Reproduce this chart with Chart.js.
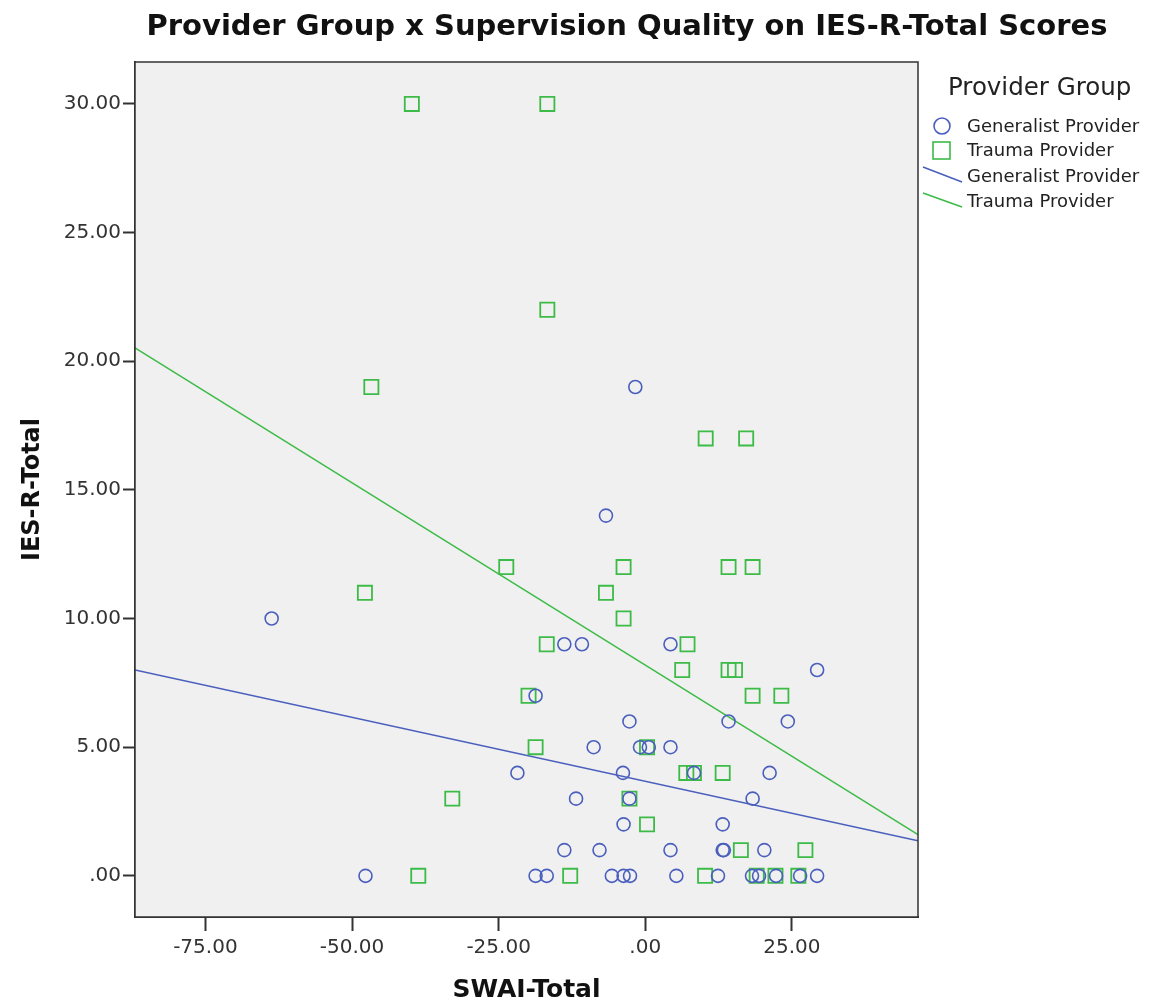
<!DOCTYPE html>
<html>
<head>
<meta charset="utf-8">
<title>Provider Group x Supervision Quality on IES-R-Total Scores</title>
<script src="https://cdn.jsdelivr.net/npm/chart.js@4.4.1/dist/chart.umd.min.js"></script>
<style>
  html, body { margin: 0; padding: 0; background: #fff; }
  #wrap { position: relative; width: 1171px; height: 1008px; }
</style>
</head>
<body>
<div id="wrap"><canvas id="myChart"></canvas></div>
<script>
// ---- data ----
const generalistX = [-63.7, -47.7, -1.7, -6.7, -13.8, -10.8, 4.3, -18.7, -2.7, 14.2,
  24.3, -8.8, -0.9, 0.6, 4.3, -21.8, -3.8, 8.3, 21.2, -11.8,
  -2.7, 18.3, -3.7, 13.2, -13.8, -7.8, 4.3, 13.2, 13.4, 20.3,
  29.3, -18.7, -16.8, -5.7, -3.7, -2.6, 5.3, 12.4, 18.2, 19.4,
  22.3, 26.4, 29.3];
const generalistY = [10, 0, 19, 14, 9, 9, 9, 7, 6, 6,
  6, 5, 5, 5, 5, 4, 4, 4, 4, 3,
  3, 3, 2, 2, 1, 1, 1, 1, 1, 1,
  8, 0, 0, 0, 0, 0, 0, 0, 0, 0,
  0, 0, 0];

const traumaX = [-39.8, -16.7, -16.7, -46.7, 10.3, 17.2, -23.7, -3.7, 14.2, 18.3,
  -47.8, -6.7, -3.7, -16.8, 7.2, 6.3, 14.2, 15.3, -19.9, 18.3,
  23.2, -18.7, 0.3, 7.0, 8.3, 13.2, -32.9, -2.7, 0.3, 16.3,
  27.3, -38.7, -12.8, 10.2, 19.0, 22.2, 26.1];
const traumaY = [30, 30, 22, 19, 17, 17, 12, 12, 12, 12,
  11, 11, 10, 9, 9, 8, 8, 8, 7, 7,
  7, 5, 5, 4, 4, 4, 3, 3, 2, 1,
  1, 0, 0, 0, 0, 0, 0];

// fit lines, end points at the axis edges
const generalistFit = [[-87, 8.0], [46.5, 1.36]];
const traumaFit = [[-87, 20.52], [46.5, 1.6]];

const xTicks = [-75, -50, -25, 0, 25];
const yTicks = [0, 5, 10, 15, 20, 25, 30];
const xRange = [-87, 46.5];
const yRange = [-1.6, 31.63];

const seriesNames = ["Generalist Provider", "Trauma Provider"];
const legendTitle = "Provider Group";
const chartTitle = "Provider Group x Supervision Quality on IES-R-Total Scores";

// ---- style ----
const BLUE = "#4a5fbd";
const GREEN = "#3dbb47";
const FONT = "'DejaVu Sans', sans-serif";

const toPoints = (xs, ys) => xs.map((x, i) => ({ x, y: ys[i] }));
const toLine = (pairs) => pairs.map(([x, y]) => ({ x, y }));
const fmt = (v) => (v === 0 ? ".00" : v.toFixed(2));

// grey plot box + frame
const plotBox = {
  id: "plotBox",
  beforeDatasetsDraw(chart) {
    const { ctx, chartArea: a } = chart;
    ctx.save();
    ctx.fillStyle = "#f0f0f0";
    ctx.fillRect(a.left, a.top, a.width, a.height);
    ctx.restore();
  },
  afterDraw(chart) {
    const { ctx, chartArea: a } = chart;
    ctx.save();
    ctx.strokeStyle = "#333";
    ctx.lineWidth = 1.5;
    ctx.strokeRect(a.left, a.top, a.width, a.height);
    ctx.restore();
  },
};

// title and SPSS-like legend
const decorations = {
  id: "decorations",
  afterDraw(chart) {
    const { ctx } = chart;
    ctx.save();
    ctx.fillStyle = "#111";
    ctx.textBaseline = "middle";
    ctx.textAlign = "center";
    ctx.font = `bold 29px ${FONT}`;
    ctx.fillText(chartTitle, 627, 27);

    ctx.textAlign = "left";
    ctx.fillStyle = "#222";
    ctx.font = `24.5px ${FONT}`;
    ctx.fillText(legendTitle, 948, 89);

    ctx.font = `18px ${FONT}`;
    const ds = chart.data.datasets;
    // circle
    ctx.lineWidth = 1.6;
    ctx.strokeStyle = ds[0].borderColor;
    ctx.beginPath();
    ctx.arc(942, 126, 8, 0, Math.PI * 2);
    ctx.stroke();
    ctx.fillText(ds[0].label, 967, 127);
    // square
    ctx.strokeStyle = ds[1].borderColor;
    ctx.strokeRect(933, 142, 17, 17);
    ctx.fillText(ds[1].label, 967, 151);
    // fit lines
    ctx.strokeStyle = ds[2].borderColor;
    ctx.beginPath();
    ctx.moveTo(923, 167);
    ctx.lineTo(962, 182);
    ctx.stroke();
    ctx.fillText(ds[2].label, 967, 177);
    ctx.strokeStyle = ds[3].borderColor;
    ctx.beginPath();
    ctx.moveTo(923, 193);
    ctx.lineTo(962, 207);
    ctx.stroke();
    ctx.fillText(ds[3].label, 967, 202);
    ctx.restore();
  },
};

const chartConfig = {
  type: "scatter",
  data: {
    datasets: [
      {
        label: seriesNames[0],
        data: toPoints(generalistX, generalistY),
        borderColor: BLUE,
        backgroundColor: "rgba(0,0,0,0)",
        pointStyle: "circle",
        pointRadius: 6.5,
        borderWidth: 1.6,
      },
      {
        label: seriesNames[1],
        data: toPoints(traumaX, traumaY),
        borderColor: GREEN,
        backgroundColor: "rgba(0,0,0,0)",
        pointStyle: "rect",
        pointRadius: 10,
        borderWidth: 1.8,
      },
      {
        label: seriesNames[0],
        data: toLine(generalistFit),
        showLine: true,
        borderColor: BLUE,
        borderWidth: 1.5,
        pointRadius: 0,
      },
      {
        label: seriesNames[1],
        data: toLine(traumaFit),
        showLine: true,
        borderColor: GREEN,
        borderWidth: 1.5,
        pointRadius: 0,
      },
    ],
  },
  options: {
    responsive: true,
    maintainAspectRatio: false,
    animation: false,
    events: [],
    layout: { padding: { top: 62, right: 253, left: 0, bottom: 0 } },
    plugins: {
      legend: { display: false },
      title: { display: false },
      tooltip: { enabled: false },
    },
    scales: {
      x: {
        type: "linear",
        min: xRange[0],
        max: xRange[1],
        afterBuildTicks: (s) => { s.ticks = xTicks.map((value) => ({ value })); },
        afterFit: (s) => { s.height = 91; },
        ticks: {
          callback: fmt,
          color: "#333",
          font: { family: FONT, size: 20 },
          padding: 5,
          maxRotation: 0,
        },
        grid: { drawOnChartArea: false, tickLength: 14, tickColor: "#333", tickWidth: 2 },
        border: { color: "#333", width: 2 },
        title: {
          display: true,
          text: "SWAI-Total",
          color: "#111",
          font: { family: FONT, size: 25, weight: "bold" },
          padding: { top: 0, bottom: 3 },
        },
      },
      y: {
        type: "linear",
        min: yRange[0],
        max: yRange[1],
        afterBuildTicks: (s) => { s.ticks = yTicks.map((value) => ({ value })); },
        afterFit: (s) => { s.width = 135; },
        ticks: {
          callback: fmt,
          color: "#333",
          font: { family: FONT, size: 20 },
          padding: 2,
        },
        grid: { drawOnChartArea: false, tickLength: 12, tickColor: "#333", tickWidth: 2 },
        border: { color: "#333", width: 2 },
        title: {
          display: true,
          text: "IES-R-Total",
          color: "#111",
          font: { family: FONT, size: 24, weight: "bold" },
          padding: { top: 18, bottom: 0 },
        },
      },
    },
  },
  plugins: [plotBox, decorations],
};

const initChart = () => {
  const canvas = document.getElementById("myChart");
  if (!canvas) return;
  new Chart(canvas, chartConfig);
};

initChart();
</script>
</body>
</html>
